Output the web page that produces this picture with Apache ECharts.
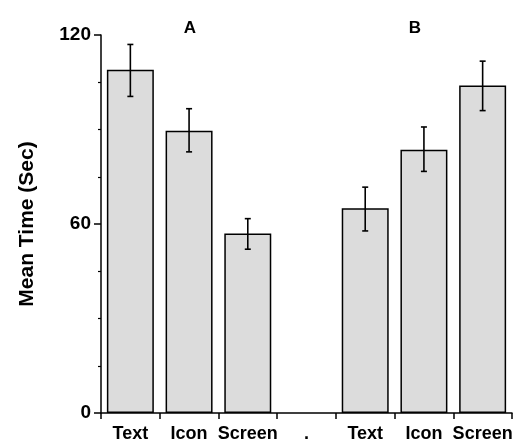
<!DOCTYPE html>
<html>
<head>
<meta charset="utf-8">
<script src="https://cdn.jsdelivr.net/npm/echarts@6/dist/echarts.min.js"></script>
<style>html,body{margin:0;padding:0;background:#fff}#c{width:515px;height:440px}</style>
</head>
<body>
<div id="c"></div>
<script>
var categories = ['Text', 'Icon', 'Screen', '.', 'Text', 'Icon', 'Screen'];
var meanTime = [109, 89.6, 57, '-', 65, 83.6, 104];
var errLow = [100.5, 82.9, 52, null, 57.8, 76.7, 96];
var errHigh = [117, 96.6, 61.7, null, 71.7, 90.8, 111.7];
var groupLabels = ['A', 'B'];
var yTicks = [0, 60, 120];

var FONT = '"Liberation Sans", Arial, sans-serif';
var errData = [];
for (var i = 0; i < categories.length; i++) {
  if (errLow[i] != null) errData.push([i, errLow[i], errHigh[i]]);
}

var chart = echarts.init(document.getElementById('c'));
chart.setOption({
  animation: false,
  backgroundColor: '#fff',
  grid: { left: 101, right: 3, top: 35, bottom: 27, containLabel: false, outerBoundsMode: 'none' },
  xAxis: {
    type: 'category',
    data: categories,
    boundaryGap: true,
    axisLine: { lineStyle: { color: '#000', width: 1.5 } },
    axisTick: { show: true, length: 6, lineStyle: { color: '#000', width: 1.5 } },
    axisLabel: { color: '#000', fontFamily: FONT, fontWeight: 'bold', fontSize: 18, margin: 12, interval: 0 },
    splitLine: { show: false }
  },
  yAxis: {
    type: 'value',
    min: yTicks[0], max: yTicks[yTicks.length - 1], interval: 60,
    name: 'Mean Time (Sec)',
    nameLocation: 'middle',
    nameGap: 63,
    nameTextStyle: { color: '#000', fontFamily: FONT, fontWeight: 'bold', fontSize: 21 },
    axisLine: { show: true, lineStyle: { color: '#000', width: 1.5 } },
    axisTick: { show: true, length: 7, lineStyle: { color: '#000', width: 1.5 } },
    minorTick: { show: true, splitNumber: 4, length: 3, lineStyle: { color: '#000', width: 1.2 } },
    axisLabel: { color: '#000', fontFamily: FONT, fontWeight: 'bold', fontSize: 19, margin: 10 },
    splitLine: { show: false }
  },
  graphic: [
    { type: 'text', x: 190, y: 28, style: { text: groupLabels[0], font: 'bold 17px ' + FONT, fill: '#000', textAlign: 'center', textVerticalAlign: 'middle' } },
    { type: 'text', x: 415, y: 28, style: { text: groupLabels[1], font: 'bold 17px ' + FONT, fill: '#000', textAlign: 'center', textVerticalAlign: 'middle' } }
  ],
  series: [
    {
      type: 'bar',
      data: meanTime,
      barWidth: '80%',
      itemStyle: { color: '#dcdcdc', borderColor: '#000', borderWidth: 1.5 },
      z: 2
    },
    {
      type: 'custom',
      data: errData,
      z: 5,
      renderItem: function (params, api) {
        var x = api.value(0);
        var lo = api.coord([x, api.value(1)]);
        var hi = api.coord([x, api.value(2)]);
        var hw = 3;
        var st = { stroke: '#000', lineWidth: 1.6 };
        return {
          type: 'group',
          children: [
            { type: 'line', shape: { x1: hi[0], y1: hi[1], x2: lo[0], y2: lo[1] }, style: st },
            { type: 'line', shape: { x1: hi[0] - hw, y1: hi[1], x2: hi[0] + hw, y2: hi[1] }, style: st },
            { type: 'line', shape: { x1: lo[0] - hw, y1: lo[1], x2: lo[0] + hw, y2: lo[1] }, style: st }
          ]
        };
      }
    }
  ]
});
</script>
</body>
</html>
